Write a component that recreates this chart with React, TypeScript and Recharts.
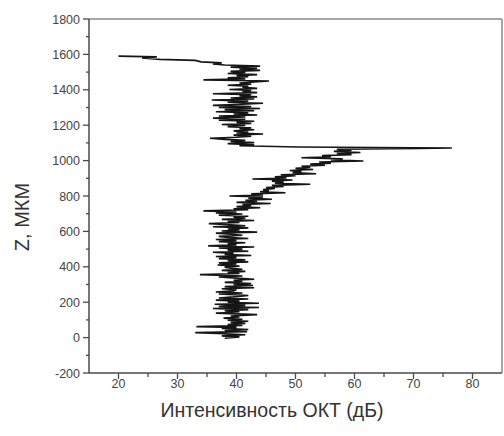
import React from 'react';
import { ScatterChart, Scatter, XAxis, YAxis, ReferenceLine } from 'recharts';

// Depth (µm) and OCT intensity (dB) samples
const depth = [
  -4, 4, 10, 16, 22, 28, 34, 40, 46, 52, 58, 62, 68, 74, 80, 86, 92, 98, 104, 110,
  116, 122, 130, 138, 146, 152, 158, 164, 170, 176, 182, 188, 194, 200, 206, 212, 218, 224, 230, 238,
  246, 252, 258, 264, 270, 276, 282, 288, 294, 300, 306, 312, 318, 324, 330, 336, 342, 348, 356, 362,
  368, 374, 380, 386, 392, 398, 404, 410, 416, 422, 428, 434, 440, 446, 452, 458, 464, 470, 476, 482,
  488, 494, 500, 506, 512, 518, 524, 530, 536, 542, 548, 554, 560, 566, 572, 578, 584, 590, 596, 602,
  608, 614, 620, 626, 632, 638, 644, 650, 656, 662, 668, 674, 680, 686, 692, 698, 704, 710, 716, 722,
  728, 734, 740, 746, 752, 758, 764, 770, 776, 782, 788, 794, 800, 806, 812, 818, 824, 830, 836, 842,
  848, 854, 860, 866, 872, 878, 884, 890, 896, 902, 908, 914, 920, 926, 932, 938, 944, 950, 956, 962,
  968, 974, 980, 986, 992, 998, 1004, 1010, 1016, 1022, 1028, 1034, 1040, 1046, 1052, 1058, 1064, 1068, 1071, 1077, 1084,
  1090, 1096, 1102, 1108, 1114, 1120, 1126, 1132, 1138, 1144, 1150, 1156, 1162, 1168, 1174, 1180, 1186, 1192, 1198, 1204,
  1210, 1216, 1222, 1228, 1234, 1240, 1246, 1252, 1258, 1264, 1270, 1276, 1282, 1288, 1294, 1300, 1306, 1312, 1318, 1324,
  1330, 1336, 1342, 1348, 1354, 1360, 1366, 1372, 1378, 1384, 1390, 1396, 1402, 1408, 1414, 1420, 1426, 1432, 1438, 1444,
  1450, 1456, 1462, 1468, 1474, 1480, 1486, 1492, 1498, 1504, 1510, 1516, 1522, 1528, 1534, 1540, 1546, 1552, 1558, 1566,
  1572, 1580, 1586, 1590,
];

const intensity = [
  38.0, 40.5, 37.5, 41.5, 38.0, 33.0, 41.8, 38.0, 42.0, 37.5, 40.0, 33.2, 41.0, 38.5, 41.5, 39.0, 42.0, 38.5, 41.0, 37.8,
  40.5, 39.0, 43.5, 36.5, 40.5, 38.0, 42.0, 36.0, 43.8, 37.0, 41.5, 36.3, 43.8, 38.5, 40.5, 36.5, 42.0, 37.0, 39.5, 42.0,
  37.0, 41.0, 36.5, 39.5, 40.0, 37.5, 43.0, 38.0, 42.8, 39.5, 42.5, 38.0, 41.0, 39.5, 43.0, 40.0, 37.0, 41.0, 33.8, 40.5,
  38.5, 41.5, 37.5, 41.0, 39.0, 38.0, 40.5, 36.8, 40.0, 37.0, 42.0, 38.5, 41.5, 37.0, 40.0, 36.5, 42.5, 38.0, 39.5, 36.0,
  42.0, 38.5, 41.0, 37.0, 43.0, 35.2, 40.0, 38.5, 41.5, 37.0, 40.0, 36.5, 42.0, 38.5, 37.0, 41.0, 39.0, 36.5, 43.5, 37.5,
  40.5, 38.5, 42.0, 36.0, 41.5, 39.0, 35.3, 40.5, 38.5, 43.0, 37.5, 41.5, 39.5, 42.0, 37.0, 41.0, 36.5, 40.0, 34.4, 42.0,
  39.5, 44.0, 40.0, 42.5, 41.0, 45.8, 40.0, 43.5, 41.5, 46.0, 42.0, 44.5, 38.8, 44.5, 42.5, 48.3, 44.0, 45.5, 44.5, 46.5,
  45.0, 48.0, 46.0, 52.5, 46.5, 48.0, 46.0, 49.5, 42.7, 48.5, 46.5, 50.0, 47.5, 53.5, 49.5, 51.0, 49.0, 53.0, 50.0, 52.5,
  51.0, 55.0, 52.5, 56.0, 54.0, 61.5, 56.0, 58.0, 51.0, 56.0, 54.5, 59.5, 57.0, 61.0, 56.5, 59.5, 57.0, 71.0, 76.5, 50.5, 40.5,
  43.0, 38.5, 43.0, 39.0, 41.5, 38.0, 35.5, 40.0, 42.5, 39.5, 44.5, 40.0, 42.0, 39.5, 43.0, 40.5, 42.5, 38.5, 41.5, 37.5,
  42.5, 40.0, 43.0, 37.0, 41.5, 36.0, 41.5, 37.0, 43.5, 39.5, 42.0, 36.5, 43.0, 38.0, 44.0, 37.0, 42.5, 36.0, 41.0, 44.5,
  38.5, 42.0, 35.8, 43.0, 39.0, 43.5, 40.5, 42.5, 36.0, 43.5, 41.0, 42.5, 38.8, 43.5, 41.0, 42.0, 38.5, 42.5, 40.5, 43.0,
  45.5, 34.4, 41.5, 38.5, 42.0, 40.0, 43.5, 38.5, 41.5, 39.0, 44.0, 40.5, 43.5, 39.0, 44.0, 38.0, 36.0, 37.5, 34.0, 33.0,
  27.0, 24.0, 26.5, 20.0,
];

const xTicks = [20, 25, 30, 35, 40, 45, 50, 55, 60, 65, 70, 75, 80];
const yTicks = [-200, -100, 0, 100, 200, 300, 400, 500, 600, 700, 800, 900, 1000, 1100, 1200, 1300, 1400, 1500, 1600, 1700, 1800];

const xTitle = 'Интенсивность ОКТ (дБ)';
const yTitle = 'Z, МКМ';

const points = depth.map((z, i) => ({ z, v: intensity[i] }));

const AXIS = '#4a4a4a';
const TEXT = '#444';
const FONT = '"Liberation Sans", Arial, sans-serif';

const XTick = (props: any) => {
  const { x, y, payload } = props;
  const major = payload.value % 10 === 0;
  return (
    <g>
      <line x1={x} y1={y} x2={x} y2={y + (major ? 6 : 4)} stroke={AXIS} strokeWidth={1.3} />
      {major && (
        <text x={x} y={y + 15} textAnchor="middle" fontSize={12.5} fill={TEXT} fontFamily={FONT}>
          {payload.value}
        </text>
      )}
    </g>
  );
};

const YTick = (props: any) => {
  const { x, y, payload } = props;
  const major = payload.value % 200 === 0;
  return (
    <g>
      <line x1={x - (major ? 6 : 3)} y1={y} x2={x} y2={y} stroke={AXIS} strokeWidth={1.3} />
      {major && (
        <text x={x - 9} y={y + 4.5} textAnchor="end" fontSize={12.5} fill={TEXT} fontFamily={FONT}>
          {payload.value}
        </text>
      )}
    </g>
  );
};

export default function App() {
  return (
    <div style={{ position: 'absolute', left: 0, top: 0, width: 504, height: 436, background: '#fff' }}>
      <ScatterChart width={504} height={436} margin={{ top: 19, right: 2, bottom: 0, left: 0 }}>
        <XAxis
          type="number"
          dataKey="v"
          domain={[15, 85]}
          ticks={xTicks}
          interval={0}
          height={63}
          tickSize={0}
          tickMargin={0}
          tickLine={false}
          tick={<XTick />}
          axisLine={{ stroke: AXIS, strokeWidth: 1.5 }}
          allowDataOverflow
        />
        <YAxis
          type="number"
          dataKey="z"
          domain={[-200, 1800]}
          ticks={yTicks}
          interval={0}
          width={89}
          tickSize={0}
          tickMargin={0}
          tickLine={false}
          tick={<YTick />}
          axisLine={{ stroke: AXIS, strokeWidth: 1.5 }}
          allowDataOverflow
        />
        <ReferenceLine y={1800} stroke="#888" strokeWidth={1.5} />
        <ReferenceLine x={85} stroke="#888" strokeWidth={1.5} />
        <Scatter
          data={points}
          line={{ stroke: '#151515', strokeWidth: 1.6 }}
          lineType="joint"
          shape={() => <g />}
          isAnimationActive={false}
        />
      </ScatterChart>
      <div
        style={{
          position: 'absolute',
          left: 22,
          top: 217,
          transform: 'translate(-50%, -50%) rotate(-90deg)',
          fontFamily: FONT,
          fontSize: 20,
          color: '#333',
          whiteSpace: 'nowrap',
        }}
      >
        {yTitle}
      </div>
      <div
        style={{
          position: 'absolute',
          left: 272,
          top: 410,
          transform: 'translate(-50%, -50%)',
          fontFamily: FONT,
          fontSize: 19.5,
          color: '#333',
          whiteSpace: 'nowrap',
        }}
      >
        {xTitle}
      </div>
    </div>
  );
}
